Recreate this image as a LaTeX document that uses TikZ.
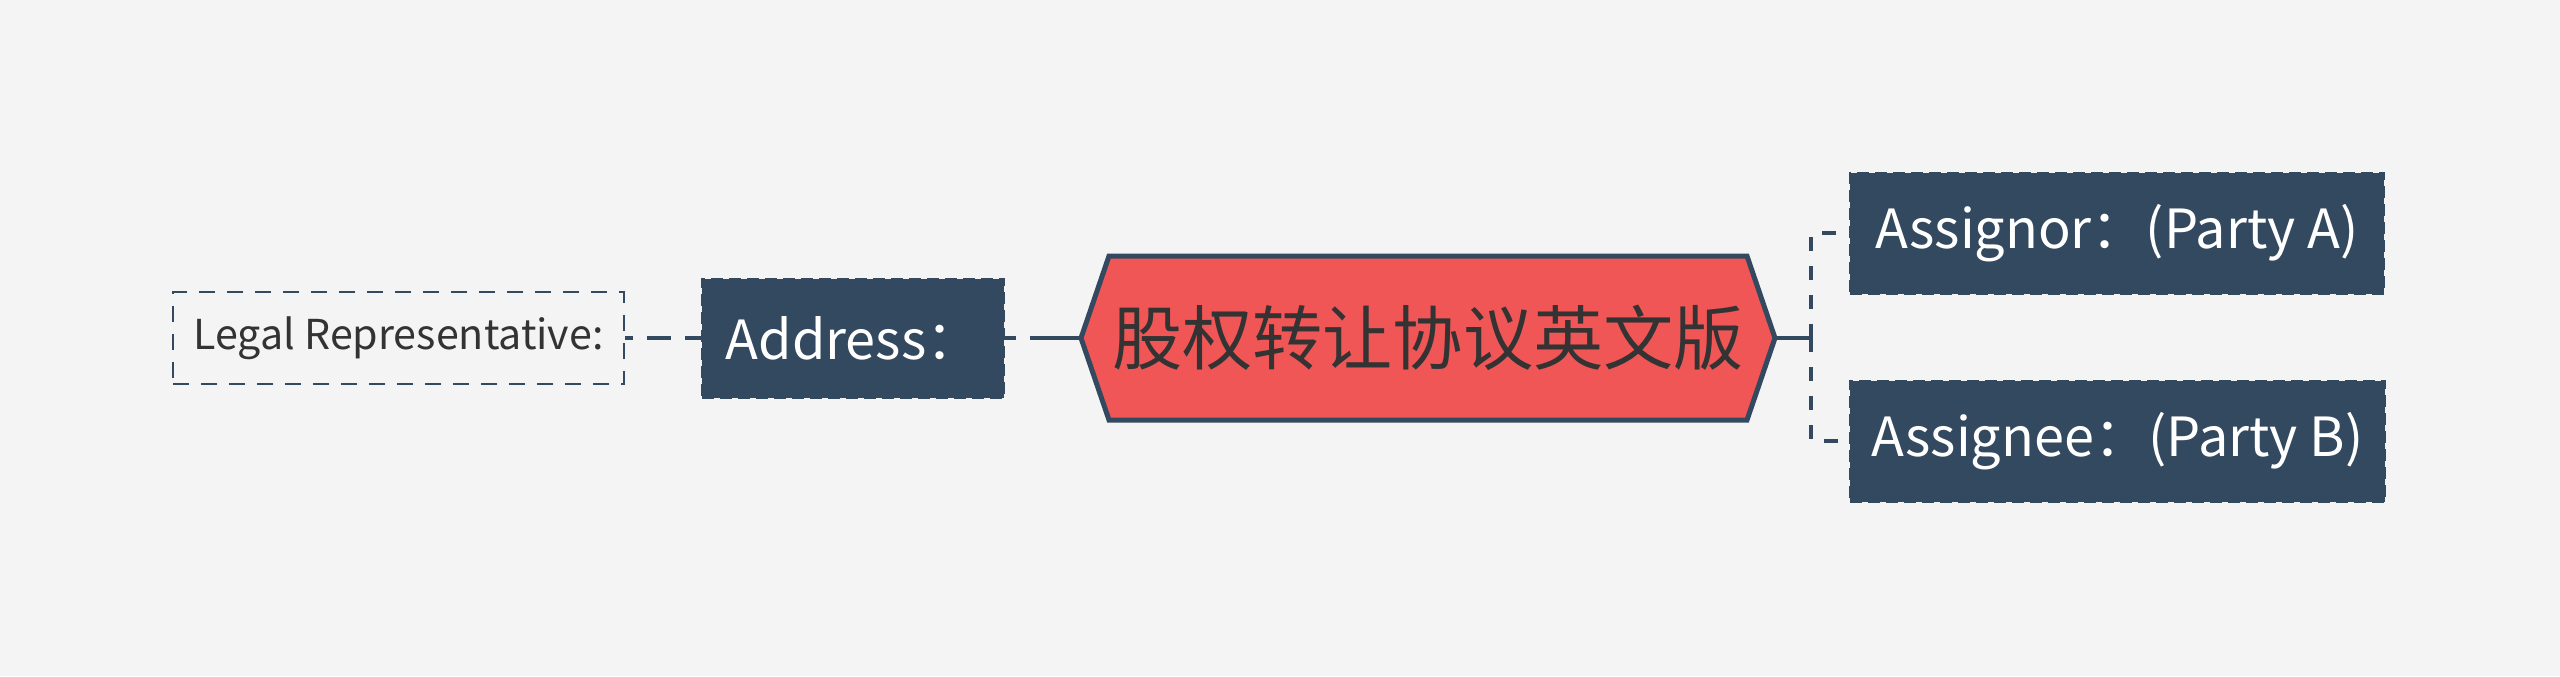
\documentclass[tikz,border=0pt]{standalone}
\usepackage{fontspec}
\setmainfont{Noto Sans CJK SC}
\usetikzlibrary{calc}
\definecolor{bg}{HTML}{F4F4F4}
\definecolor{navy}{HTML}{33495F}
\definecolor{hexred}{HTML}{F05656}
\definecolor{ink}{HTML}{333333}
\begin{document}
\begin{tikzpicture}[x=0.5pt,y=-0.5pt,
  darkbox/.style={draw=navy, fill=navy, dash pattern=on 6pt off 3pt, line width=1pt,
    text=white, font=\fontsize{27}{32}\selectfont, inner sep=0pt, anchor=center},
  lightbox/.style={draw=navy, dash pattern=on 8pt off 6pt, line width=1.4pt,
    text=ink, font=\fontsize{20.6}{25}\selectfont, inner sep=0pt, anchor=center},
  conn/.style={draw=navy, line width=2pt},
  dconn/.style={conn, dash pattern=on 7pt off 7.5pt}]
\fill[bg] (0,0) rectangle (2560,676);
\useasboundingbox (0,0) rectangle (2560,676);
% central hexagon
\coordinate (hc) at (1428,338);
\draw[navy, fill=hexred, line width=2.5pt, line join=miter]
  ($(hc)+(-347,0)$) -- ($(hc)+(-319,-82)$) -- ($(hc)+(319,-82)$) -- ($(hc)+(347,0)$)
  -- ($(hc)+(319,82)$) -- ($(hc)+(-319,82)$) -- cycle;
\node[inner sep=0pt, minimum width=347pt, minimum height=82pt, text=ink,
  font=\fontsize{35.1}{40}\selectfont] (hex) at (hc) {股权转让协议英文版};
% left side
\node[darkbox, minimum width=151pt, minimum height=59.5pt] (addr) at (853,338) {Address：};
\node[lightbox, minimum width=225.5pt, minimum height=46pt] (legal) at (398.5,338) {Legal Representative:};
% right side
\node[darkbox, minimum width=267pt, minimum height=60.5pt] (asgnr) at (2117,233) {Assignor：(Party A)};
\node[darkbox, minimum width=267.5pt, minimum height=60.5pt] (asgne) at (2117.5,441) {Assignee：(Party B)};
% connectors
\draw[conn, dash pattern=on 25.5pt off 7pt] (hex.west) -- (addr.east);
\draw[conn, line width=1.8pt, dash pattern=on 12pt off 7pt, dash phase=8pt] (legal.east) -- (addr.west);
\coordinate (j) at (1811,338);
\draw[conn] (hex.east) -- (j);
\draw[dconn] (j) |- (asgnr.west);
\draw[dconn] (j) |- (asgne.west);
\end{tikzpicture}
\end{document}
